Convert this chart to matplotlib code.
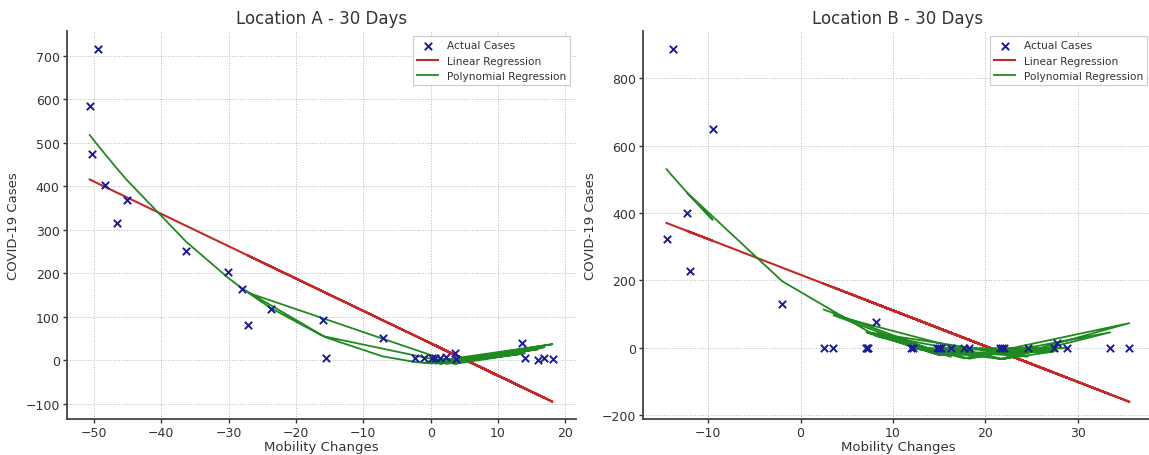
import numpy as np
import matplotlib
matplotlib.use("Agg")
import matplotlib.pyplot as plt

# mobility change vs cases, in day order
mob_a = [-50.6, -50.27, -49.34, -48.3, -46.5, -45.1, -36.3, -30.04, -27.96, -15.57,
         -7.13, -2.3, 0.16, 18.1, -1.04, 13.6, 0.71, 16.9, 1.37, 16.0,
         2.25, 14.0, 3.6, -16.0, -23.7, -27.1, 3.8]
cases_a = [585, 475, 717, 404, 315, 368, 251, 202, 163, 6,
           52, 5, 5, 4, 5, 40, 5, 5, 6, 1,
           8, 5, 17, 93, 117, 81, 2]

mob_b = [-14.52, -13.84, -12.0, -9.52, -12.32, -2.0, 8.2, 17.72, 35.6, 21.6,
         3.56, 15.2, 27.8, 12.12, 24.6, 7.12, 18.28, 33.52, 22.0, 7.32,
         14.8, 28.9, 11.92, 21.8, 27.44, 15.0, 7.2, 16.28, 2.52]
cases_b = [322, 888, 228, 650, 400, 131, 77, 1, 1, 1,
           1, 1, 15, 1, 1, 1, 1, 1, 1, 1,
           1, 1, 1, 1, 1, 1, 1, 1, 1]

titles = ["Location A - 30 Days", "Location B - 30 Days"]

plt.rcParams['font.family'] = ['DejaVu Sans']
plt.rcParams['text.color'] = '#333333'
plt.rcParams['axes.labelcolor'] = '#333333'
plt.rcParams['xtick.color'] = '#333333'
plt.rcParams['ytick.color'] = '#333333'

fig, axes = plt.subplots(1, 2, figsize=(11.49, 4.56), dpi=100)
fig.subplots_adjust(left=0.058, right=1.003, top=0.93, bottom=0.078, wspace=0.133)

for ax, x, y, title in zip(axes, [mob_a, mob_b], [cases_a, cases_b], titles):
    x = np.array(x)
    y = np.array(y)
    lin = np.polyfit(x, y, 1)
    poly = np.polyfit(x, y, 2)

    ax.scatter(x, y, marker='x', color='#1a1a9e', s=28, linewidths=1.4,
               label='Actual Cases', zorder=3)
    ax.plot(x, np.polyval(lin, x), color='#c62828', lw=1.5, label='Linear Regression')
    ax.plot(x, np.polyval(poly, x), color='#1f8a1f', lw=1.3, label='Polynomial Regression')

    ax.set_title(title, fontsize=12)
    ax.set_xlabel('Mobility Changes', fontsize=9.5, labelpad=1)
    ax.set_ylabel('COVID-19 Cases', fontsize=9.5)
    ax.tick_params(labelsize=9, length=3, width=1, pad=2)
    ax.tick_params(axis='x', pad=1.5)
    ax.grid(True, linestyle=':', linewidth=0.7, color='#b8b8b8')
    ax.set_axisbelow(True)
    for s in ['top', 'right']:
        ax.spines[s].set_visible(False)
    for s in ['left', 'bottom']:
        ax.spines[s].set_color('#444444')
        ax.spines[s].set_linewidth(1.3)
    leg = ax.legend(loc='upper right', fontsize=7.6, frameon=True, fancybox=False,
                    edgecolor='#cccccc', framealpha=1.0)
    leg.get_frame().set_linewidth(0.8)

fig.savefig('out.png', dpi=100)
